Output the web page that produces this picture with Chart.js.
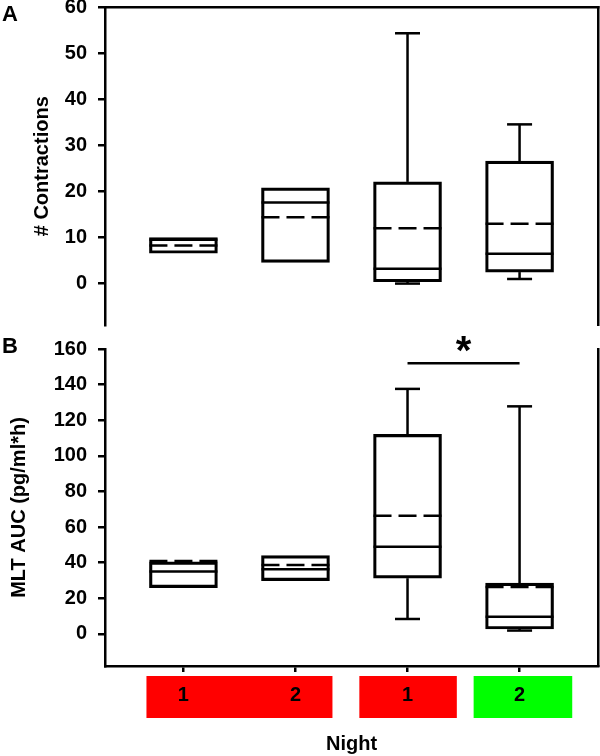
<!DOCTYPE html>
<html>
<head>
<meta charset="utf-8">
<script src="https://cdn.jsdelivr.net/npm/chart.js@4.4.0/dist/chart.umd.min.js"></script>
<style>
  body { margin: 0; background: #fff; width: 600px; height: 756px; position: relative; overflow: hidden; font-family: "Liberation Sans", Arial, sans-serif; }
  .wrap { position: absolute; left: 0; width: 600px; }
  #wrapA { top: 0; height: 330px; }
  #wrapB { top: 330px; height: 426px; }
  .letter { position: absolute; left: 2px; font-weight: bold; font-size: 22px; line-height: 1; z-index: 2; }
</style>
</head>
<body>
<div class="letter" style="top:3px">A</div>
<div class="letter" style="top:335px">B</div>
<div class="wrap" id="wrapA"><canvas id="chartA"></canvas></div>
<div class="wrap" id="wrapB"><canvas id="chartB"></canvas></div>
<script>
const positions = [1, 2, 3, 4];
const nightLabels = ['1', '2', '1', '2'];

// panel A: # contractions
const contrLow    = [null, null, 0.0, 1.0];
const contrQ1     = [6.6, 4.6, 0.4, 2.5];
const contrMedian = [9.5, 17.6, 3.2, 6.5];
const contrMean   = [8.3, 14.4, 12.0, 13.0];
const contrQ3     = [10.0, 20.8, 22.1, 26.6];
const contrHigh   = [null, null, 54.4, 34.6];
const contrTicks  = [0, 10, 20, 30, 40, 50, 60];

// panel B: MLT AUC
const mltLow    = [null, null, 8.4, 1.9];
const mltQ1     = [26.0, 29.9, 31.3, 2.8];
const mltMedian = [35.0, 36.3, 49.0, 9.6];
const mltMean   = [40.9, 38.7, 66.4, 26.4];
const mltQ3     = [40.5, 44.0, 112.1, 28.5];
const mltHigh   = [null, null, 137.6, 127.8];
const mltTicks  = [0, 20, 40, 60, 80, 100, 120, 140, 160];

// significance between groups 3 and 4
const sigFrom = 3, sigTo = 4, sigLevel = 152, sigText = '*';

Chart.defaults.font.family = "'Liberation Sans', Arial, sans-serif";
Chart.defaults.color = '#000';

const BOX_W = 68;

// whiskers, median (solid) and mean (dashed)
const boxParts = {
  id: 'boxParts',
  afterDatasetsDraw(chart, args, o) {
    const ctx = chart.ctx, xs = chart.scales.x, ys = chart.scales.y;
    const half = BOX_W / 2, cap = 12.5;
    const seg = (x1, y1, x2, y2) => { ctx.beginPath(); ctx.moveTo(x1, y1); ctx.lineTo(x2, y2); ctx.stroke(); };
    ctx.save();
    ctx.strokeStyle = '#000';
    ctx.lineWidth = 2.5;
    positions.forEach((p, i) => {
      const x = xs.getPixelForValue(p);
      if (o.high[i] != null) {
        const yh = ys.getPixelForValue(o.high[i]);
        seg(x, ys.getPixelForValue(o.q3[i]), x, yh);
        seg(x - cap, yh, x + cap, yh);
      }
      if (o.low[i] != null) {
        const yl = ys.getPixelForValue(o.low[i]);
        seg(x, ys.getPixelForValue(o.q1[i]), x, yl);
        seg(x - cap, yl, x + cap, yl);
      }
      const ym = ys.getPixelForValue(o.median[i]);
      seg(x - half, ym, x + half, ym);
      ctx.setLineDash([18, 7]);
      const ya = ys.getPixelForValue(o.mean[i]);
      seg(x - half, ya, x + half, ya);
      ctx.setLineDash([]);
    });
    ctx.restore();
  }
};

// coloured night bars + significance bracket (panel B only)
const extras = {
  id: 'extras',
  beforeDraw(chart, args, o) {
    if (!o.bands) return;
    const ctx = chart.ctx, xs = chart.scales.x, b = chart.chartArea.bottom;
    ctx.save();
    o.bands.forEach(bd => {
      const x1 = xs.getPixelForValue(bd.from), x2 = xs.getPixelForValue(bd.to);
      ctx.fillStyle = bd.color;
      ctx.fillRect(x1, b + 10, x2 - x1, 42);
    });
    ctx.restore();
  },
  afterDraw(chart, args, o) {
    if (!o.sig) return;
    const ctx = chart.ctx, xs = chart.scales.x, ys = chart.scales.y;
    const y = ys.getPixelForValue(o.sig.level);
    ctx.save();
    ctx.strokeStyle = '#000';
    ctx.lineWidth = 2.5;
    ctx.beginPath();
    ctx.moveTo(xs.getPixelForValue(o.sig.from), y);
    ctx.lineTo(xs.getPixelForValue(o.sig.to), y);
    ctx.stroke();
    ctx.fillStyle = '#000';
    ctx.font = "bold 40px 'Liberation Sans', Arial, sans-serif";
    ctx.textAlign = 'center';
    ctx.textBaseline = 'alphabetic';
    ctx.fillText(o.sig.text, xs.getPixelForValue((o.sig.from + o.sig.to) / 2), y + 1);
    ctx.restore();
  }
};

function noPad(sc) {
  sc.paddingTop = 0;
  sc.paddingBottom = 0;
  sc.paddingLeft = 0;
  sc.paddingRight = 0;
}

function makePanel(id, s, cfg) {
  const line = { color: '#000', width: 2.5 };
  return new Chart(document.getElementById(id), {
    type: 'bar',
    data: {
      datasets: [{
        data: positions.map((p, i) => ({ x: p, y: [s.q1[i], s.q3[i]] })),
        backgroundColor: 'rgba(0,0,0,0)',
        borderColor: '#000',
        borderWidth: 2.5,
        borderSkipped: false,
        barThickness: BOX_W,
      }]
    },
    options: {
      responsive: true,
      maintainAspectRatio: false,
      animation: false,
      layout: { padding: cfg.padding },
      plugins: {
        legend: { display: false },
        tooltip: { enabled: false },
        boxParts: s,
        extras: cfg.extras || {},
      },
      scales: {
        x: {
          type: 'linear',
          position: cfg.xPos,
          min: 0.3,
          max: 4.7,
          offset: false,
          grid: { offset: false, drawOnChartArea: false, drawTicks: cfg.xTicks, tickLength: 6, color: '#000', lineWidth: 2.5 },
          border: line,
          ticks: {
            display: cfg.xTicks,
            padding: 11,
            font: { size: 20, weight: 'bold' },
            callback: (v, i) => nightLabels[i],
          },
          title: {
            display: !!cfg.xTitle,
            text: cfg.xTitle || '',
            font: { size: 20, weight: 'bold' },
            padding: { top: 0, bottom: 0 },
          },
          afterBuildTicks: sc => { sc.ticks = positions.map(v => ({ value: v })); },
          afterFit: sc => { sc.height = cfg.xHeight; noPad(sc); },
        },
        y: {
          min: cfg.yMin,
          max: cfg.yMax,
          grid: { drawOnChartArea: false, tickLength: 7, color: '#000', lineWidth: 2.5 },
          border: line,
          ticks: { padding: 11, font: { size: 20, weight: 'bold' } },
          title: {
            display: true,
            text: cfg.yTitle,
            font: { size: 20, weight: 'bold' },
            padding: { top: cfg.yTitlePad, bottom: 0 },
          },
          afterBuildTicks: sc => { sc.ticks = cfg.yTicks.map(v => ({ value: v })); },
          afterFit: sc => { sc.width = 105; noPad(sc); },
        },
        y2: {
          position: 'right',
          display: true,
          grid: { drawOnChartArea: false, drawTicks: false },
          border: line,
          ticks: { display: false },
          afterFit: sc => { sc.width = 0; noPad(sc); },
        },
      },
    },
    plugins: [boxParts, extras],
  });
}

makePanel('chartA',
  { low: contrLow, q1: contrQ1, median: contrMedian, mean: contrMean, q3: contrQ3, high: contrHigh },
  {
    padding: { top: 7.5, right: 2, bottom: 5, left: 0 },
    xPos: 'top', xTicks: false, xHeight: 0,
    yMin: -9, yMax: 60, yTicks: contrTicks,
    yTitle: '# Contractions', yTitlePad: 30,
  });

makePanel('chartB',
  { low: mltLow, q1: mltQ1, median: mltMedian, mean: mltMean, q3: mltQ3, high: mltHigh },
  {
    padding: { top: 19, right: 2, bottom: 0, left: 0 },
    xPos: 'bottom', xTicks: true, xHeight: 90, xTitle: 'Night',
    yMin: -18, yMax: 160, yTicks: mltTicks,
    yTitle: 'MLT AUC (pg/ml*h)', yTitlePad: 7,
    extras: {
      bands: [
        { from: 0.67, to: 2.33, color: '#ff0000' },
        { from: 2.57, to: 3.44, color: '#ff0000' },
        { from: 3.59, to: 4.47, color: '#00ff00' },
      ],
      sig: { from: sigFrom, to: sigTo, level: sigLevel, text: sigText },
    },
  });
</script>
</body>
</html>
